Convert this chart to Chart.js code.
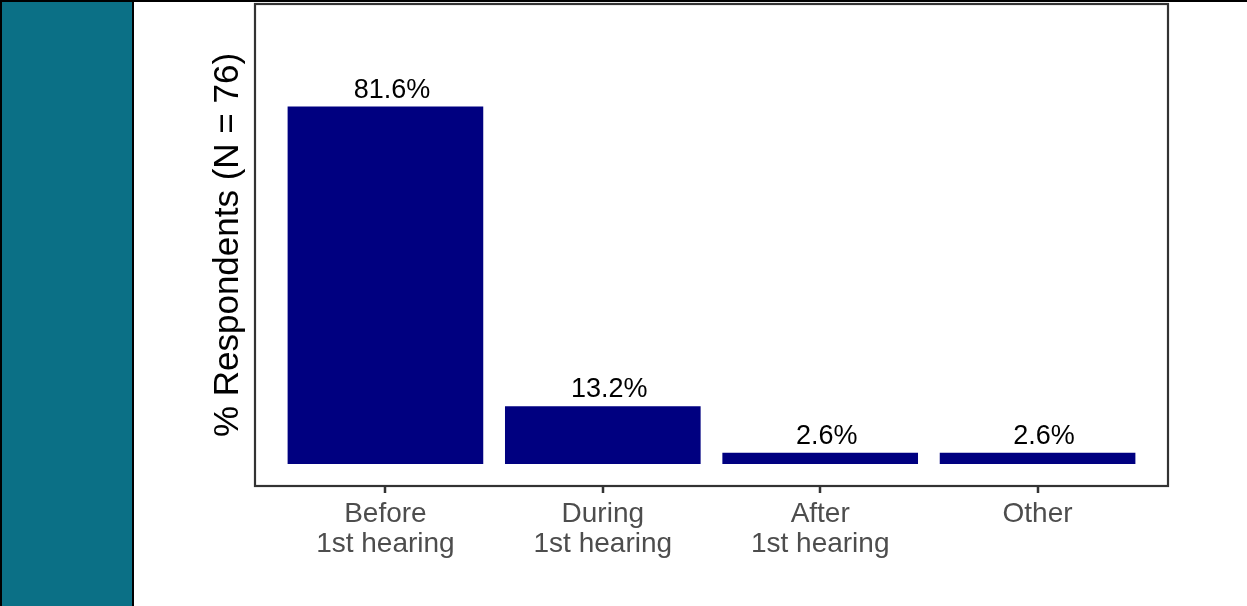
<!DOCTYPE html>
<html>
<head>
<meta charset="utf-8">
<script src="https://cdn.jsdelivr.net/npm/chart.js@4"></script>
<style>
    body { margin: 0; background: #fff; width: 1247px; height: 606px; overflow: hidden; position: relative; }
    #sidebar { position: absolute; left: 0; top: 0; width: 134px; height: 606px; box-sizing: border-box;
               background: #0b7086; border-left: 2px solid #000; border-right: 2px solid #000; border-top: 2px solid #000; }
    #topline { position: absolute; left: 134px; top: 0; width: 1113px; height: 2px; background: #000; }
    #chart1 { position: absolute; left: 133px; top: 0; }
</style>
</head>
<body>
<div id="sidebar"></div>
<div id="topline"></div>
<canvas id="chart1" width="1114" height="606"></canvas>
<script>
// when respondents were told, share of all 76 answers
var categories = [["Before", "1st hearing"], ["During", "1st hearing"], ["After", "1st hearing"], ["Other"]];
var percents = [81.6, 13.2, 2.6, 2.6];
var yTitle = "% Respondents (N = 76)";

var fontFamily = "'Liberation Sans', Arial, sans-serif";

// box around the plotting area plus the short tick marks under each bar
var panelBorder = {
    id: "panelBorder",
    afterDraw: function (chart) {
        var a = chart.chartArea;
        var ctx = chart.ctx;
        var xScale = chart.scales.x;
        ctx.save();
        ctx.strokeStyle = "#333333";
        ctx.lineWidth = 2.2;
        ctx.strokeRect(a.left, a.top, a.right - a.left, a.bottom - a.top);
        ctx.lineWidth = 2.5;
        ctx.beginPath();
        xScale.ticks.forEach(function (t) {
            var px = Math.round(xScale.getPixelForValue(t.value));
            ctx.moveTo(px, a.bottom);
            ctx.lineTo(px, a.bottom + 7);
        });
        ctx.stroke();
        ctx.restore();
    }
};

// percent labels sitting above each bar
var barLabels = {
    id: "barLabels",
    afterDatasetsDraw: function (chart) {
        var ctx = chart.ctx;
        var meta = chart.getDatasetMeta(0);
        ctx.save();
        ctx.font = "27px " + fontFamily;
        ctx.fillStyle = "#000000";
        ctx.textAlign = "center";
        ctx.textBaseline = "alphabetic";
        meta.data.forEach(function (bar, i) {
            ctx.fillText(percents[i].toFixed(1) + "%", bar.x + 6.5, bar.y - 9);
        });
        ctx.restore();
    }
};

var chart = new Chart(document.getElementById("chart1"), {
    type: "bar",
    data: {
        datasets: [{
            data: percents.map(function (v, i) { return { x: i + 1, y: v }; }),
            backgroundColor: "#000080",
            borderWidth: 0,
            categoryPercentage: 0.9,
            barPercentage: 1.0
        }]
    },
    options: {
        responsive: false,
        animation: false,
        devicePixelRatio: 1,
        layout: { padding: { top: 4, right: 79, left: 0, bottom: 0 } },
        plugins: {
            legend: { display: false },
            tooltip: { enabled: false }
        },
        scales: {
            x: {
                type: "linear",
                min: 0.4,
                max: 4.6,
                offset: false,
                afterBuildTicks: function (scale) {
                    scale.ticks = categories.map(function (c, i) { return { value: i + 1 }; });
                },
                afterFit: function (scale) { scale.height = 120; },
                grid: { display: false, tickLength: 7 },
                border: { display: false },
                ticks: {
                    autoSkip: false,
                    maxRotation: 0,
                    padding: 6,
                    color: "#4d4d4d",
                    font: { family: fontFamily, size: 28, lineHeight: 1.08 },
                    callback: function (value) { return categories[value - 1]; }
                }
            },
            y: {
                min: -5,
                max: 105,
                afterFit: function (scale) { scale.width = 122; },
                grid: { display: false },
                border: { display: false },
                ticks: { display: false },
                title: {
                    display: true,
                    text: yTitle,
                    color: "#000000",
                    font: { family: fontFamily, size: 35, lineHeight: 1 },
                    padding: { top: 78, bottom: 0 }
                }
            }
        }
    },
    plugins: [panelBorder, barLabels]
});
</script>
</body>
</html>
